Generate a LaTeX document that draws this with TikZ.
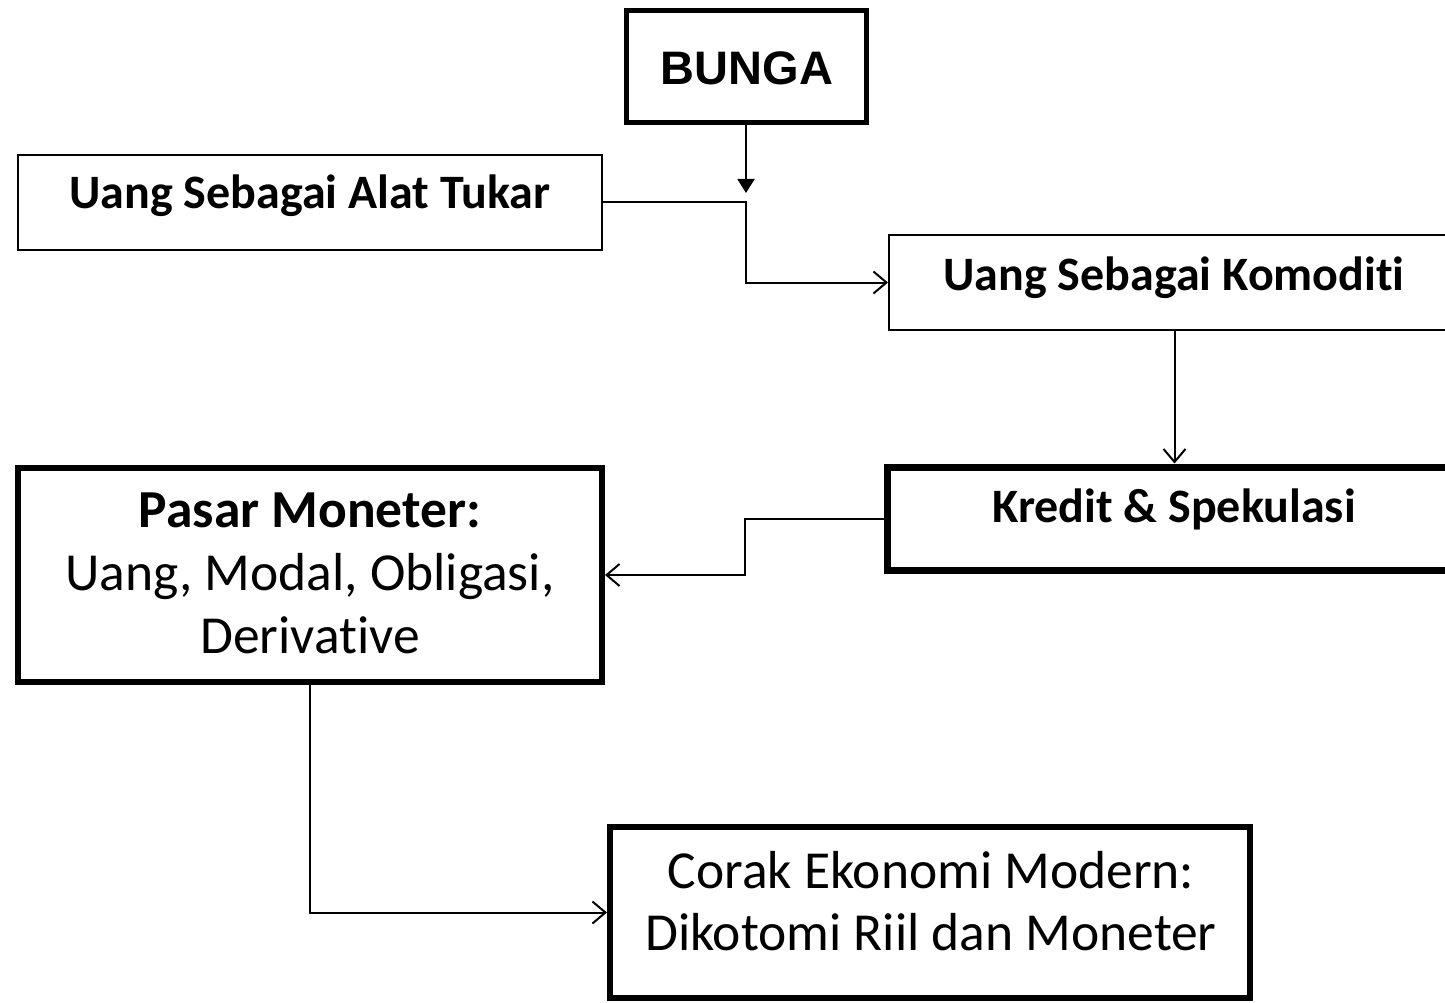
\documentclass[tikz,border=0pt]{standalone}
\usepackage{fontspec}
\setmainfont{Carlito}[Ligatures=NoCommon]
\newfontfamily\arialfont{Liberation Sans}
\usetikzlibrary{arrows.meta}
\begin{document}
\begin{tikzpicture}[x=1pt,y=-1pt,
  box/.style={draw, rectangle, inner sep=0pt, line width=#1},
  txt/.style={anchor=base, inner sep=0pt, outer sep=0pt},
  lbl/.style={txt, font=\fontsize{48}{56}\selectfont\bfseries},
  big/.style={txt, font=\fontsize{53.5}{63}\selectfont},
  conn/.style={line width=2pt},
  openarrow/.style={conn, -{Straight Barb[length=13pt,width=22pt,line width=2pt]}},
  filledarrow/.style={conn, -{Triangle[length=14pt,width=17pt]}}
]
\useasboundingbox[fill=white] (0,0) rectangle (1445,1003);

% boxes
\node[box=5pt, minimum width=240pt, minimum height=112pt] (bunga) at (746,66.5) {};
\node[box=2pt, minimum width=584pt, minimum height=95pt] (alat) at (310,202.5) {};
\node[box=2pt, minimum width=571pt, minimum height=95pt] (komod) at (1174.5,282.5) {};
\node[box=7pt, minimum width=574pt, minimum height=103pt] (kredit) at (1174,518.5) {};
\node[box=6pt, minimum width=584pt, minimum height=214pt] (pasar) at (310,575) {};
\node[box=6pt, minimum width=640pt, minimum height=171pt] (corak) at (930,912.5) {};

% texts
\node[txt, font=\arialfont\fontsize{47}{56}\selectfont\bfseries] (bungat) at (747,85) {BUNGA};
\node[lbl] (alatt) at (310,208) {Uang Sebagai Alat Tukar};
\node[lbl] (komodt) at (1174,290) {Uang Sebagai Komoditi};
\node[lbl] (kreditt) at (1174,522) {Kredit \& Spekulasi};
\node[big, font=\fontsize{53.5}{63}\selectfont\bfseries] (pasar1) at (310,527) {Pasar Moneter:};
\node[big] (pasar2) at (310,590) {Uang, Modal, Obligasi,};
\node[big] (pasar3) at (310,653) {Derivative};
\node[big] (corak1) at (931,888) {Corak Ekonomi Modern:};
\node[big] (corak2) at (931,950) {Dikotomi Riil dan Moneter};

% connector points
\coordinate (tipA) at (746,193);
\coordinate (midx) at (745,0);

% connectors
\draw[filledarrow] (bunga.south) -- (tipA);
\draw[openarrow] (alat.east) -- (alat.east -| tipA) |- (komod.west);
\draw[openarrow] (komod.south) -- (komod.south |- kredit.north);
\draw[openarrow] (kredit.west) -- (kredit.west -| midx) |- (pasar.east);
\draw[openarrow] (pasar.south) |- (corak.west);
\end{tikzpicture}
\end{document}
